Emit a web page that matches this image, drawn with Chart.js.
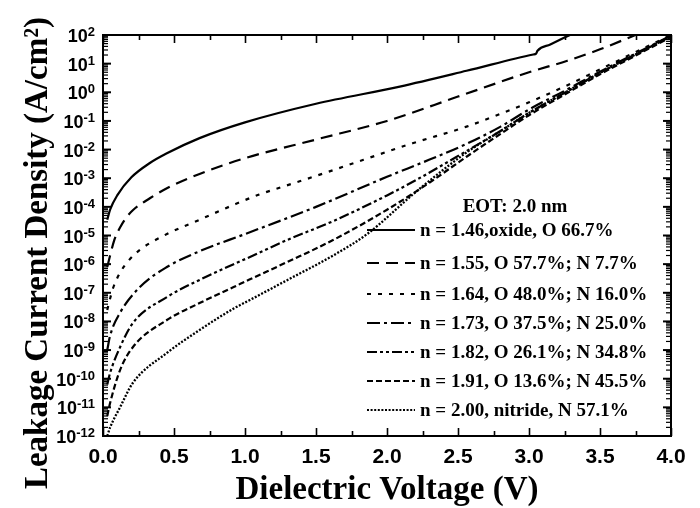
<!DOCTYPE html>
<html>
<head>
<meta charset="utf-8">
<script src="https://cdn.jsdelivr.net/npm/chart.js@4.4.1/dist/chart.umd.min.js"></script>
<style>
html,body{margin:0;padding:0;background:#fff;}
canvas{display:block;}
</style>
</head>
<body>
<canvas id="c" width="700" height="508"></canvas>
<script>
// ---- data (x: dielectric voltage in V, y: log10 of J in A/cm^2) ----
const seriesLabels = [
  "n = 1.46,oxide, O 66.7%",
  "n = 1.55, O 57.7%; N 7.7%",
  "n = 1.64, O 48.0%; N 16.0%",
  "n = 1.73, O 37.5%; N 25.0%",
  "n = 1.82, O 26.1%; N 34.8%",
  "n = 1.91, O 13.6%; N 45.5%",
  "n = 2.00, nitride, N 57.1%"
];
const legendTitle = "EOT: 2.0 nm";
const xTitle = "Dielectric Voltage (V)";
const yTitle = "Leakage Current Density (A/cm\u00B2)";

const V_146 = [0.03,0.05,0.1,0.2,0.33,0.45,0.68,1.0,1.5,2.09,2.56,3.03,3.05,3.06,3.15,3.3];
const logJ_146 = [-4.45,-4.1,-3.6,-2.97,-2.47,-2.13,-1.6,-1.05,-0.4,0.2,0.75,1.32,1.35,1.45,1.67,2.03];

const V_155 = [0.03,0.05,0.08,0.12,0.16,0.21,0.33,0.45,0.68,1.0,1.5,2.0,2.5,3.0,3.27,3.5,3.75];
const logJ_155 = [-6.1,-5.7,-5.15,-4.72,-4.4,-4.12,-3.7,-3.35,-2.85,-2.3,-1.65,-1.0,-0.15,0.7,1.1,1.5,2.0];

const V_164 = [0.03,0.05,0.07,0.12,0.18,0.26,0.45,0.68,0.92,1.1,1.39,1.62,2.18,2.56,2.8,3.0,3.25,3.5,3.75,4.0];
const logJ_164 = [-7.6,-7.2,-6.85,-6.3,-5.88,-5.5,-4.95,-4.45,-3.93,-3.57,-3.1,-2.72,-1.78,-1.2,-0.75,-0.35,0.2,0.8,1.4,2.0];

const V_173 = [0.03,0.05,0.12,0.26,0.45,0.68,1.0,1.5,2.0,2.3,2.56,2.8,3.0,3.25,3.5,3.75,4.0];
const logJ_173 = [-9.0,-8.5,-7.7,-6.8,-6.1,-5.55,-4.95,-4.0,-2.95,-2.35,-1.8,-1.2,-0.6,0.05,0.72,1.35,1.98];

const V_182 = [0.03,0.05,0.12,0.21,0.45,0.68,0.92,1.035,1.3,1.62,2.0,2.21,2.56,2.8,3.0,3.25,3.5,3.75,4.0];
const logJ_182 = [-10.2,-9.8,-8.9,-8.06,-7.15,-6.55,-6.0,-5.75,-5.15,-4.5,-3.6,-3.05,-2.05,-1.35,-0.72,-0.02,0.68,1.32,1.96];

const V_191 = [0.03,0.05,0.12,0.21,0.45,0.68,0.92,1.035,1.3,1.62,2.0,2.3,2.56,2.8,3.0,3.25,3.5,3.75,4.0];
const logJ_191 = [-11.3,-10.85,-9.7,-8.9,-7.95,-7.36,-6.8,-6.53,-5.92,-5.16,-4.1,-3.15,-2.25,-1.45,-0.8,-0.08,0.63,1.28,1.93];

const V_200 = [0.03,0.05,0.12,0.21,0.45,0.68,0.92,1.035,1.3,1.62,1.86,2.21,2.56,2.8,3.0,3.25,3.5,3.75,4.0];
const logJ_200 = [-12.0,-11.7,-11.0,-10.15,-9.1,-8.3,-7.55,-7.25,-6.55,-5.7,-4.95,-3.45,-2.1,-1.35,-0.72,-0.02,0.68,1.32,1.97];

const xTickValues = [0.0,0.5,1.0,1.5,2.0,2.5,3.0,3.5,4.0];
const xMinorValues = [0.25,0.75,1.25,1.75,2.25,2.75,3.25,3.75];
const yTickExponents = [-12,-11,-10,-9,-8,-7,-6,-5,-4,-3,-2,-1,0,1,2];

// ---- styles ----
const dashes = [[], [12,7], [4,7], [13,4,3,4], [10,3,3,3,3,3], [6,3], [2,1.6]];
const seriesV = [V_146,V_155,V_164,V_173,V_182,V_191,V_200];
const seriesLog = [logJ_146,logJ_155,logJ_164,logJ_173,logJ_182,logJ_191,logJ_200];

const datasets = seriesLabels.map((lab,i)=>({
  label: lab,
  data: seriesV[i].map((v,k)=>({x:v, y:Math.pow(10, seriesLog[i][k])})),
  borderColor:'#000',
  borderWidth: i===6 ? 2.3 : 2.2,
  borderDash: dashes[i],
  pointRadius:0,
  fill:false,
  cubicInterpolationMode:'monotone'
}));

const SERIF = '"Liberation Serif","Times New Roman",serif';
const SANS = '"Liberation Sans",Arial,sans-serif';

const decor = {
  id:'decor',
  afterDraw(chart){
    const {ctx, chartArea:a, scales:{x,y}} = chart;
    ctx.save();
    ctx.strokeStyle='#000'; ctx.fillStyle='#000';
    ctx.setLineDash([]);
    const seg=(x1,y1,x2,y2)=>{ctx.beginPath();ctx.moveTo(x1,y1);ctx.lineTo(x2,y2);ctx.stroke();};
    // frame
    ctx.lineWidth=2;
    ctx.strokeRect(a.left,a.top,a.right-a.left,a.bottom-a.top);
    // x ticks (inward, top and bottom)
    ctx.lineWidth=1.6;
    xTickValues.forEach(v=>{const p=Math.round(x.getPixelForValue(v))+0.5; seg(p,a.bottom,p,a.bottom-8); seg(p,a.top,p,a.top+8);});
    xMinorValues.forEach(v=>{const p=Math.round(x.getPixelForValue(v))+0.5; seg(p,a.bottom,p,a.bottom-5); seg(p,a.top,p,a.top+5);});
    // y ticks (inward, left and right)
    yTickExponents.forEach(e=>{
      const p=y.getPixelForValue(Math.pow(10,e));
      ctx.lineWidth=2;
      seg(a.left,p,a.left+8,p); seg(a.right,p,a.right-8,p);
      if(e<2){
        ctx.lineWidth=1.2;
        for(let m=2;m<=9;m++){
          const q=y.getPixelForValue(m*Math.pow(10,e));
          seg(a.left,q,a.left+5,q); seg(a.right,q,a.right-5,q);
        }
      }
    });
    // x tick labels
    ctx.font='bold 21px '+SANS;
    ctx.textAlign='center'; ctx.textBaseline='alphabetic';
    xTickValues.forEach(v=>{ctx.fillText(v.toFixed(1), x.getPixelForValue(v), a.bottom+27);});
    // y tick labels: 10^e
    yTickExponents.forEach(e=>{
      const p=y.getPixelForValue(Math.pow(10,e));
      const ex=String(e);
      ctx.font='bold 13px '+SANS;
      const we=ctx.measureText(ex).width;
      const xr=a.left-8;
      ctx.textAlign='left'; ctx.textBaseline='alphabetic';
      ctx.fillText(ex, xr-we, p+1);
      ctx.font='bold 18px '+SANS;
      ctx.textAlign='right';
      ctx.fillText('10', xr-we, p+7);
    });
    // axis titles
    ctx.font='bold 33px '+SERIF;
    ctx.textAlign='center'; ctx.textBaseline='alphabetic';
    ctx.fillText(xTitle, (a.left+a.right)/2, 499);
    ctx.save();
    ctx.translate(47, 253);
    ctx.rotate(-Math.PI/2);
    ctx.fillText(yTitle, 0, 0);
    ctx.restore();
    // legend
    ctx.font='bold 19px '+SERIF;
    ctx.textAlign='center'; ctx.textBaseline='middle';
    ctx.fillText(legendTitle, 515, 207);
    const rows=[230,263,294,323,352,381,410];
    chart.data.datasets.forEach((ds,i)=>{
      ctx.lineWidth=2;
      ctx.setLineDash(ds.borderDash);
      seg(367,rows[i],415,rows[i]);
      ctx.setLineDash([]);
      ctx.textAlign='left';
      ctx.fillText(ds.label, 420, rows[i]+1);
    });
    ctx.restore();
  }
};

new Chart(document.getElementById('c'), {
  type:'line',
  data:{datasets},
  options:{
    responsive:false,
    animation:false,
    devicePixelRatio:1,
    events:[],
    layout:{padding:{left:103,right:29,top:35,bottom:72}},
    plugins:{legend:{display:false},tooltip:{enabled:false}},
    scales:{
      x:{type:'linear',min:0,max:4,display:false},
      y:{type:'logarithmic',min:1e-12,max:1e2,display:false}
    }
  },
  plugins:[decor]
});
</script>
</body>
</html>
